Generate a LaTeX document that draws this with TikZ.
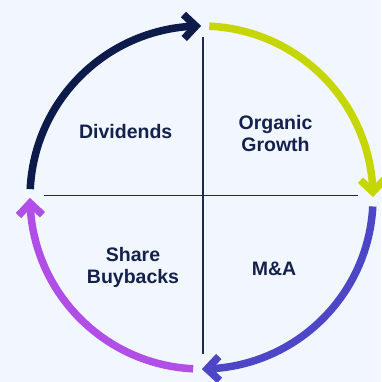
\documentclass[tikz,border=0pt]{standalone}
\usepackage{fontspec}
\setmainfont{Liberation Sans}
\usetikzlibrary{calc}
\definecolor{bg}{HTML}{F2F6FE}
\definecolor{navyc}{HTML}{0C1B4A}
\definecolor{limec}{HTML}{C5D600}
\definecolor{indigoc}{HTML}{4D46C6}
\definecolor{purplec}{HTML}{B24EE8}
\definecolor{txtc}{HTML}{13214C}
\definecolor{axisc}{HTML}{1E2A50}
\tikzset{
  arcline/.style={line width=7.5pt, line cap=butt},
  chev/.style={line width=7.5pt, line cap=butt, line join=miter, miter limit=10},
  axisline/.style={line width=1.4pt, draw=axisc},
  lbl/.style={font=\fontsize{19.5}{22}\selectfont\bfseries, text=txtc, align=center, anchor=base, inner sep=0pt},
}
\newcommand{\mychev}[3]{\draw[chev,#1,shift={(#2)},rotate=#3] (-12,12) -- (0,0) -- (-12,-12);}
\begin{document}
\begin{tikzpicture}[x=1pt,y=1pt]
\fill[bg] (0,0) rectangle (381,382);
\useasboundingbox (0,0) rectangle (381,382);
\coordinate (c) at (201.5,184.5);
% quadrant lines
\coordinate (vt) at (203,345);
\coordinate (vb) at (203,28);
\coordinate (hl) at (44,186.5);
\coordinate (hr) at (358,186.5);
\draw[axisline] (vt) -- (vb);
\draw[axisline] (hl) -- (hr);
% chevron positions
\coordinate (t1) at ($(c)+(91.9:171.5)$);
\coordinate (t2) at ($(c)+(1.9:171.5)$);
\coordinate (t3) at ($(c)+(-88.1:171.5)$);
\coordinate (t4) at ($(c)+(181.9:171.5)$);
% arcs
\draw[arcline,navyc] ($(c)+(177.2:171.5)$) arc[start angle=177.2,end angle=91.9,radius=171.5];
\draw[arcline,limec] ($(c)+(87.4:171.5)$) arc[start angle=87.4,end angle=1.9,radius=171.5];
\draw[arcline,indigoc] ($(c)+(-3.0:171.5)$) arc[start angle=-3.0,end angle=-88.1,radius=171.5];
\draw[arcline,purplec] ($(c)+(267.2:171.5)$) arc[start angle=267.2,end angle=181.9,radius=171.5];
\mychev{navyc}{t1}{1.9}
\mychev{limec}{t2}{-88.1}
\mychev{indigoc}{t3}{-178.1}
\mychev{purplec}{t4}{91.9}
% labels
\node[lbl] (div) at (125.7,243.7) {Dividends};
\node[lbl] (org) at (275.5,230.5) {Organic\\Growth};
\node[lbl] (shb) at (133,98) {Share\\Buybacks};
\node[lbl] (mna) at (274,106.3) {M\&A};
\end{tikzpicture}
\end{document}
